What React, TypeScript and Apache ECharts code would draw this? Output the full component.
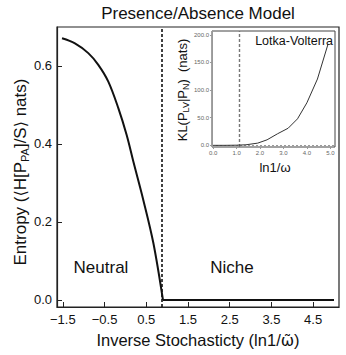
import React, { useEffect, useRef } from "react";
import * as echarts from "echarts";

// Main panel: entropy vs inverse stochasticity
const mainX = [-1.52, -1.21, -0.89, -0.65, -0.41, -0.17, 0.03, 0.19, 0.43, 0.67, 0.9];
const mainY = [0.671, 0.658, 0.633, 0.603, 0.56, 0.492, 0.423, 0.355, 0.256, 0.146, 0.0];
const flatX = [0.9, 5.0];
const flatY = [0.0, 0.0];
const mainXTicks = [-1.5, -0.5, 0.5, 1.5, 2.5, 3.5, 4.5];
const mainYTicks = [0.0, 0.2, 0.4, 0.6];
const transitionX = 0.88;

// Inset: KL divergence Lotka-Volterra
const insetX = [0, 0.5, 1.0, 1.4, 1.9, 2.3, 2.75, 3.2, 3.6, 4.0, 4.45, 4.9];
const insetY = [0, 0, 0.3, 1, 4, 10, 21, 31, 48, 77, 120, 183];
const insetXTicks = [0, 1, 2, 3, 4, 5];
const insetYTicks = [0, 50, 100, 150, 200];
const insetTransitionX = 1.12;

const FONT = "Liberation Sans, Arial, Helvetica, sans-serif";
const SYM = "DejaVu Sans, sans-serif";

export default function App() {
  const ref = useRef<HTMLDivElement>(null);
  useEffect(() => {
    if (!ref.current) return;
    const chart = echarts.init(ref.current, null, { renderer: "svg" });
    const option: any = {
      animation: false,
      backgroundColor: "#fff",
      textStyle: { fontFamily: FONT },
      grid: [
        { left: 57, top: 27, right: 7, bottom: 48, show: true, borderColor: "#222", borderWidth: 1.2, backgroundColor: "transparent" },
        { left: 212, top: 31, right: 11, bottom: 208, show: true, borderColor: "#444", borderWidth: 1, backgroundColor: "#fff" },
      ],
      xAxis: [
        {
          type: "value", gridIndex: 0, min: -1.64, max: 5.12,
          axisLine: { show: true, onZero: false, lineStyle: { color: "#222", width: 1.2 } },
          axisTick: { show: true, inside: true, length: 5, customValues: mainXTicks, lineStyle: { color: "#222" } },
          axisLabel: { customValues: mainXTicks, color: "#111", fontSize: 13, margin: 6, fontFamily: FONT, formatter: (v: number) => (v < 0 ? "\u2212" + Math.abs(v).toFixed(1) : v.toFixed(1)) },
          splitLine: { show: false },
        },
        {
          type: "value", gridIndex: 1, min: -0.05, max: 5.2,
          axisLine: { show: false, onZero: false },
          axisTick: { show: true, inside: false, length: 2, customValues: insetXTicks, lineStyle: { color: "#999" } },
          axisLabel: { customValues: insetXTicks, color: "#666", fontSize: 6, margin: 3, fontFamily: FONT, formatter: (v: number) => v.toFixed(1) },
          splitLine: { show: false },
        },
      ],
      yAxis: [
        {
          type: "value", gridIndex: 0, min: -0.018, max: 0.7,
          axisLine: { show: true, onZero: false, lineStyle: { color: "#222", width: 1.2 } },
          axisTick: { show: true, inside: true, length: 5, customValues: mainYTicks, lineStyle: { color: "#222" } },
          axisLabel: { customValues: mainYTicks, color: "#111", fontSize: 13, margin: 5, fontFamily: FONT, formatter: (v: number) => v.toFixed(1) },
          splitLine: { show: false },
        },
        {
          type: "value", gridIndex: 1, min: -3, max: 207,
          axisLine: { show: true, onZero: false, lineStyle: { color: "#999", width: 1 } },
          axisTick: { show: true, inside: false, length: 2, customValues: insetYTicks, lineStyle: { color: "#999" } },
          axisLabel: { customValues: insetYTicks, color: "#666", fontSize: 6, margin: 3, fontFamily: FONT, formatter: (v: number) => v.toFixed(1) },
          splitLine: { show: false },
        },
      ],
      series: [
        {
          type: "line", xAxisIndex: 0, yAxisIndex: 0, symbol: "none", smooth: 0.35,
          data: mainX.map((x, i) => [x, mainY[i]]),
          lineStyle: { color: "#111", width: 2 },
          markLine: {
            silent: true, symbol: "none", label: { show: false },
            lineStyle: { color: "#111", type: [3, 2], width: 1.6 },
            data: [{ xAxis: transitionX }],
          },
        },
        {
          type: "line", xAxisIndex: 0, yAxisIndex: 0, symbol: "none",
          data: flatX.map((x, i) => [x, flatY[i]]),
          lineStyle: { color: "#111", width: 2 },
        },
        {
          type: "line", xAxisIndex: 1, yAxisIndex: 1, symbol: "none",
          data: insetX.map((x, i) => [x, insetY[i]]),
          lineStyle: { color: "#333", width: 1 },
          z: 5,
          markLine: {
            silent: true, symbol: "none", label: { show: false },
            lineStyle: { color: "#777", type: [3, 2], width: 1.4 },
            data: [{ xAxis: insetTransitionX }, { yAxis: 0, lineStyle: { color: "#999", type: [2, 2], width: 1.2 } }],
          },
        },
      ],
      graphic: [
        { type: "text", x: 198, y: 13, style: { text: "Presence/Absence Model", align: "center", verticalAlign: "middle", fontSize: 17, fontFamily: FONT, fill: "#111" } },
        {
          type: "text", x: 20, y: 172, rotation: Math.PI / 2,
          style: {
            text: "{n|Entropy (}{b|\u27E8}{n|H[P}{s|PA}{n|]/S}{b|\u27E9}{n| nats)}",
            align: "center", verticalAlign: "middle",
            rich: {
              n: { fontSize: 17, fontFamily: FONT, fill: "#111" },
              b: { fontSize: 16, fontFamily: SYM, fill: "#111" },
              s: { fontSize: 11, fontFamily: FONT, fill: "#111", padding: [10, 0, 0, 0] },
            },
          },
        },
        {
          type: "text", x: 198, y: 340,
          style: {
            text: "{n|Inverse Stochasticty (ln1/}{w|\u03C9\u0303}{n|)}",
            align: "center", verticalAlign: "middle",
            rich: {
              n: { fontSize: 16.5, fontFamily: FONT, fill: "#111" },
              w: { fontSize: 16, fontFamily: SYM, fill: "#111" },
            },
          },
        },
        { type: "text", x: 101, y: 267, style: { text: "Neutral", align: "center", verticalAlign: "middle", fontSize: 17, fontFamily: FONT, fill: "#111" } },
        { type: "text", x: 232, y: 267, style: { text: "Niche", align: "center", verticalAlign: "middle", fontSize: 17, fontFamily: FONT, fill: "#111" } },
        { type: "text", x: 333, y: 41, z: 20, style: { text: "Lotka-Volterra", align: "right", verticalAlign: "middle", fontSize: 12.5, fontFamily: FONT, fill: "#111" } },
        { type: "text", x: 275, y: 167, style: { text: "ln1/\u03C9", align: "center", verticalAlign: "middle", fontSize: 13, fontFamily: FONT, fill: "#111" } },
        {
          type: "text", x: 182, y: 90, rotation: Math.PI / 2,
          style: {
            text: "{n|KL(P}{s|LV}{n||P}{s|N}{n|)  (nats)}",
            align: "center", verticalAlign: "middle",
            rich: {
              n: { fontSize: 13, fontFamily: FONT, fill: "#111" },
              s: { fontSize: 9, fontFamily: FONT, fill: "#111", padding: [8, 0, 0, 0] },
            },
          },
        },
      ],
    };
    chart.setOption(option);
    return () => chart.dispose();
  }, []);
  return <div ref={ref} style={{ position: "fixed", left: 0, top: 0, width: 346, height: 355 }} />;
}
